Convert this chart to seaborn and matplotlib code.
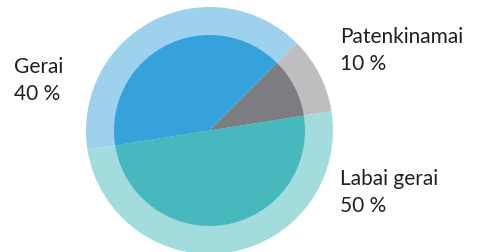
import matplotlib
matplotlib.use("Agg")
import matplotlib.pyplot as plt
import seaborn as sns

# data
labels = ["Patenkinamai", "Gerai", "Labai gerai"]
values = [10, 40, 50]
inner_colors = ["#7d7c81", "#36a2dc", "#47b8be"]
outer_colors = ["#bebec0", "#9dd1ee", "#a3dcdd"]

sns.set_theme(style="white")
plt.rcParams["font.family"] = ["Lato", "DejaVu Sans"]

W, H = 488, 252
fig = plt.figure(figsize=(W / 100, H / 100), dpi=100)

# circle centre and radius in pixels
cx, cy, r = 209.5, 130.5, 123.5
ax = fig.add_axes([(cx - r) / W, (H - cy - r) / H, 2 * r / W, 2 * r / H])
ax.set_aspect("equal")
ax.axis("off")

ax.pie(values, colors=outer_colors, startangle=9, counterclock=True,
       radius=1.0, wedgeprops=dict(linewidth=0))
ax.pie(values, colors=inner_colors, startangle=9, counterclock=True,
       radius=95.5 / 123.5, wedgeprops=dict(linewidth=0))
ax.set_xlim(-1, 1)
ax.set_ylim(-1, 1)

txt = "#231f20"
fs = 15
pos = {"Gerai": (14, 73), "Patenkinamai": (340, 43), "Labai gerai": (340, 185)}
for lab, v in zip(labels, values):
    x, y = pos[lab]
    fig.text(x / W, 1 - y / H, lab, fontsize=fs, color=txt, va="baseline", ha="left")
    fig.text(x / W, 1 - (y + 27) / H, f"{v} %", fontsize=fs, color=txt, va="baseline", ha="left")

fig.savefig("out.png", dpi=100)
